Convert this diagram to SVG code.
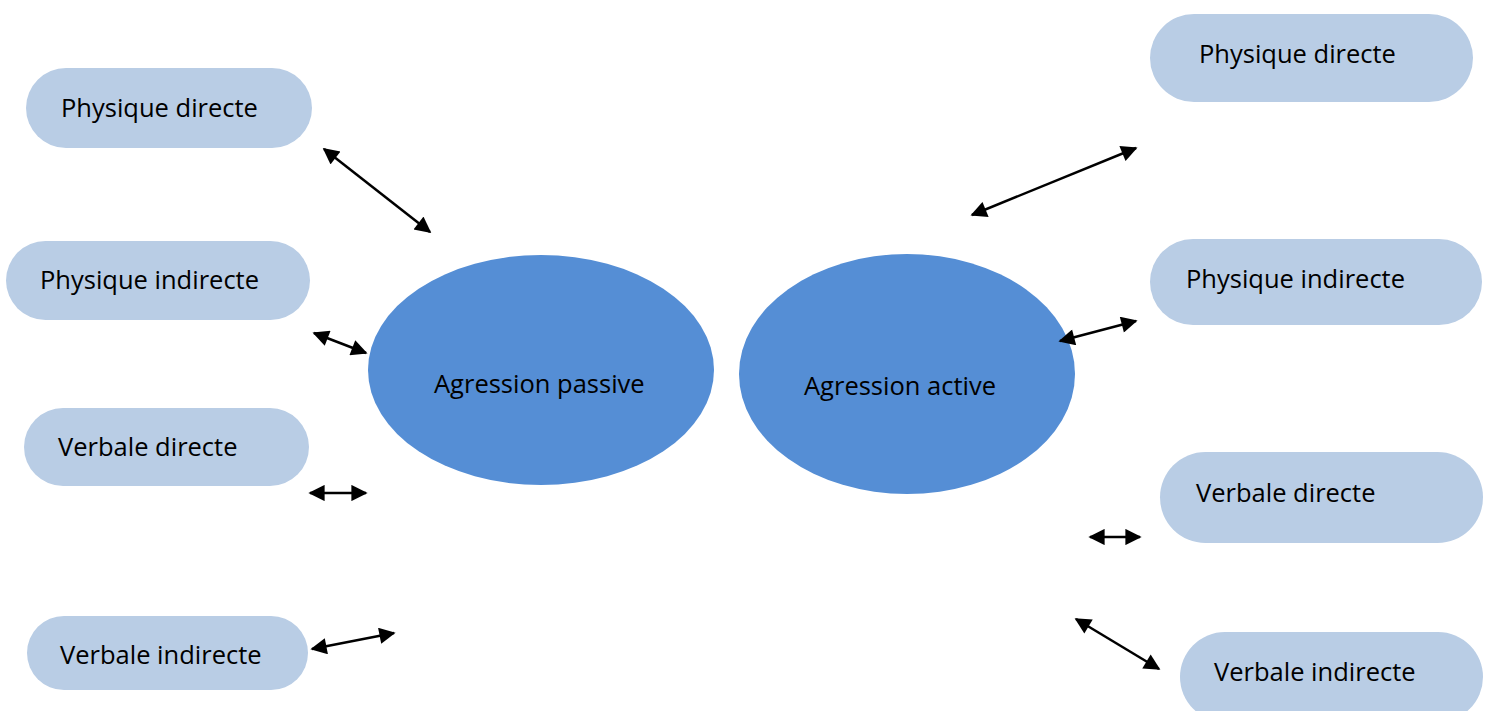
<svg xmlns="http://www.w3.org/2000/svg" width="1487" height="711" viewBox="0 0 1487 711">
<style>
.box{fill:#B9CDE5}
.ell{fill:#558ED5}
.t{font-family:"Open Sans","Liberation Sans",sans-serif;font-size:25.5px;fill:#000}
.c{stroke:#000;stroke-width:2.5;fill:none;marker-start:url(#ah);marker-end:url(#ah)}
</style>
<defs>
<marker id="ah" viewBox="0 0 10 10" refX="9" refY="5" markerWidth="7" markerHeight="6.5" markerUnits="strokeWidth" orient="auto-start-reverse">
<path d="M0,0 L10,5 L0,10 z" fill="#000"/>
</marker>
</defs>
<rect width="1487" height="711" fill="#fff"/>
<g id="n-l1"><rect class="box" x="26" y="68" width="286" height="80" rx="40"/><text class="t" x="61" y="117">Physique directe</text></g>
<g id="n-l2"><rect class="box" x="6" y="241" width="304" height="79" rx="39.5"/><text class="t" x="40" y="289">Physique indirecte</text></g>
<g id="n-l3"><rect class="box" x="24" y="408" width="285" height="78" rx="39"/><text class="t" x="58" y="456">Verbale directe</text></g>
<g id="n-l4"><rect class="box" x="27" y="616" width="281" height="74" rx="37"/><text class="t" x="60" y="664">Verbale indirecte</text></g>
<g id="n-r1"><rect class="box" x="1150" y="14" width="323" height="88" rx="44"/><text class="t" x="1199" y="63">Physique directe</text></g>
<g id="n-r2"><rect class="box" x="1150" y="239" width="332" height="86" rx="43"/><text class="t" x="1186" y="288">Physique indirecte</text></g>
<g id="n-r3"><rect class="box" x="1160" y="452" width="323" height="91" rx="45.5"/><text class="t" x="1196" y="502">Verbale directe</text></g>
<g id="n-r4"><rect class="box" x="1180" y="632" width="303" height="90" rx="45"/><text class="t" x="1214" y="681">Verbale indirecte</text></g>
<g id="n-passive"><ellipse class="ell" cx="541" cy="370" rx="173" ry="115"/><text class="t" x="434" y="393">Agression passive</text></g>
<g id="n-active"><ellipse class="ell" cx="907" cy="374" rx="168" ry="120"/><text class="t" x="804" y="395">Agression active</text></g>
<g id="connectors">
<line class="c" x1="324" y1="149" x2="430" y2="232"/>
<line class="c" x1="314" y1="333" x2="366" y2="353"/>
<line class="c" x1="310" y1="493" x2="366" y2="493"/>
<line class="c" x1="312" y1="649" x2="394" y2="633"/>
<line class="c" x1="972" y1="215" x2="1136" y2="148"/>
<line class="c" x1="1060" y1="341" x2="1136" y2="321"/>
<line class="c" x1="1090" y1="537" x2="1140" y2="537"/>
<line class="c" x1="1076" y1="619" x2="1159" y2="669"/>
</g>
</svg>
